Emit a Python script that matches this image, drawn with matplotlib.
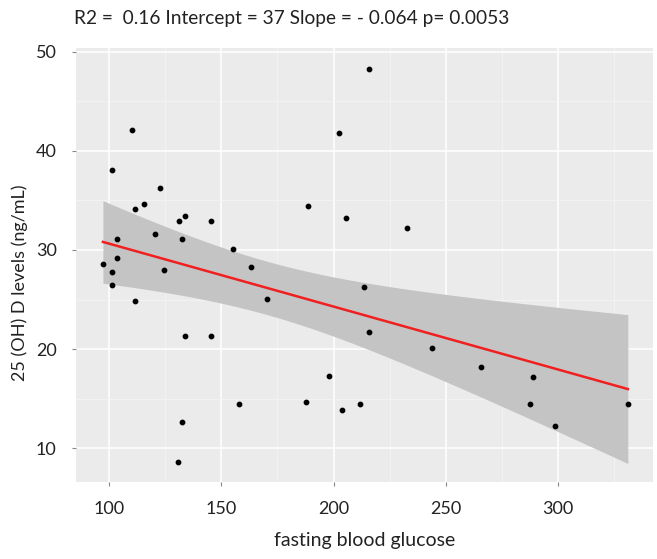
import numpy as np
import matplotlib
matplotlib.use("Agg")
import matplotlib.pyplot as plt

# fasting blood glucose vs 25(OH)D
glucose = [110.2, 202.5, 101.1, 122.5, 115.3, 111.5, 188.4, 205.6, 133.6, 131.2,
           145.3, 103.4, 120.2, 132.4, 155.1, 103.4, 97.2, 163.1, 124.4, 101.1,
           101.1, 111.5, 170.4, 133.6, 145.3, 197.8, 157.7, 187.8, 203.8, 211.6,
           132.4, 130.5, 215.6, 232.7, 213.6, 215.6, 243.9, 265.9, 288.8, 287.6,
           298.8, 331.2]
vitd = [42.1, 41.8, 38.1, 36.2, 34.6, 34.1, 34.4, 33.2, 33.4, 32.9,
        32.9, 31.1, 31.6, 31.1, 30.1, 29.2, 28.6, 28.3, 28.0, 27.8,
        26.5, 24.9, 25.1, 21.3, 21.3, 17.3, 14.5, 14.7, 13.9, 14.5,
        12.6, 8.6, 48.3, 32.2, 26.3, 21.7, 20.1, 18.2, 17.2, 14.5,
        12.2, 14.5]

title = "R2 =  0.16 Intercept = 37 Slope = - 0.064 p= 0.0053"

x = np.array(glucose)
y = np.array(vitd)
n = len(x)

# linear fit with 95% confidence band (like geom_smooth(method="lm"))
slope, intercept = np.polyfit(x, y, 1)
xs = np.linspace(x.min(), x.max(), 100)
ys = intercept + slope * xs
resid = y - (intercept + slope * x)
s = np.sqrt(np.sum(resid ** 2) / (n - 2))
se = s * np.sqrt(1 / n + (xs - x.mean()) ** 2 / np.sum((x - x.mean()) ** 2))
tval = 2.021
lo = ys - tval * se
hi = ys + tval * se

plt.rcParams['font.family'] = ['Lato', 'DejaVu Sans']

fig = plt.figure(figsize=(6.57, 5.59), dpi=100)
ax = fig.add_axes([0.1157, 0.1383, 0.8778, 0.7753])
ax.set_facecolor('#EBEBEB')

ax.fill_between(xs, lo, hi, color='#C4C4C4', linewidth=0, zorder=2)
ax.plot(xs, ys, color='#F02020', linewidth=1.8, zorder=3)
ax.scatter(x, y, s=10, color='black', zorder=4)

ax.set_xlim(85.2, 342.3)
ax.set_ylim(6.63, 50.34)
ax.set_xticks([100, 150, 200, 250, 300])
ax.set_yticks([10, 20, 30, 40, 50])
ax.set_xticks([125, 175, 225, 275, 325], minor=True)
ax.set_yticks([15, 25, 35, 45], minor=True)
ax.grid(True, which='major', color='white', linewidth=1.1, zorder=1)
ax.grid(True, which='minor', color='#F4F4F4', linewidth=0.6, zorder=1)
ax.set_axisbelow(True)
for sp in ax.spines.values():
    sp.set_visible(False)
ax.tick_params(which='major', length=3, color='#888888', labelsize=13,
               labelcolor='#222222', pad=11)
ax.tick_params(which='minor', length=0)

ax.set_xlabel('fasting blood glucose', fontsize=14, color='#222222', labelpad=11)
ax.set_ylabel('25 (OH) D levels (ng/mL)', fontsize=13, color='#222222', labelpad=3)
ax.yaxis.set_label_coords(-0.083, 0.46)
fig.text(0.112, 0.967, title, fontsize=13.8, color='#222222', va='center', ha='left')

plt.savefig('out.png', dpi=100)
plt.close()
